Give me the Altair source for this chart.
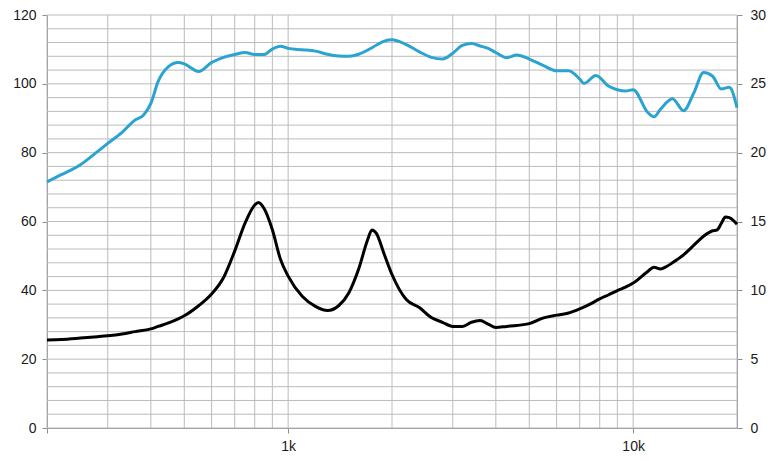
import altair as alt
import pandas as pd

# SPL curve (left axis, dB)
spl_freq = [200, 220, 250, 280, 300, 330, 360, 380, 400, 420, 450, 480, 500, 550, 600, 650,
            700, 750, 800, 850, 900, 950, 1000, 1100, 1200, 1300, 1400, 1500, 1600, 1700,
            1800, 1900, 2000, 2200, 2400, 2600, 2800, 3000, 3200, 3400, 3600, 3800, 4000,
            4300, 4600, 5000, 5500, 6000, 6500, 7000, 7200, 7800, 8500, 9000, 9500, 10000,
            11000, 11500, 12000, 13000, 14000, 15000, 16000, 17000, 18000, 19000, 20000]
spl_db = [71.5, 73.6, 76.5, 80.3, 82.7, 85.9, 89.5, 90.8, 94.3, 100.7, 105.0, 106.2, 105.8,
          103.6, 106.2, 107.7, 108.5, 109.1, 108.5, 108.5, 110.1, 110.9, 110.3, 109.9, 109.5,
          108.6, 108.1, 108.0, 108.6, 109.8, 111.2, 112.4, 112.8, 111.4, 109.3, 107.7, 107.2,
          108.9, 111.2, 111.7, 111.0, 110.3, 109.1, 107.6, 108.4, 107.2, 105.3, 103.8, 103.8,
          101.4, 100.1, 102.4, 99.3, 98.3, 97.9, 98.3, 91.8, 90.4, 92.6, 95.7, 92.2, 97.4,
          103.3, 102.2, 98.5, 99.0, 93.1]

# Impedance curve (right axis, ohm)
imp_freq = [200, 220, 250, 280, 300, 330, 360, 400, 420, 450, 480, 500, 550, 600, 650, 700,
            750, 800, 820, 850, 900, 950, 1000, 1100, 1200, 1300, 1400, 1500, 1600, 1700,
            1750, 1800, 1900, 2000, 2200, 2400, 2600, 2800, 3000, 3200, 3400, 3600, 3800,
            4000, 4300, 4600, 5000, 5500, 6000, 6500, 7000, 7500, 8000, 8500, 9000, 9500,
            10000, 11000, 11500, 12000, 12500, 13000, 14000, 15000, 16000, 17000, 17500,
            18000, 18500, 19000, 20000]
imp_ohm = [6.40, 6.43, 6.53, 6.63, 6.70, 6.83, 7.00, 7.20, 7.38, 7.63, 7.93, 8.15, 8.88, 9.73,
           10.93, 12.85, 14.88, 16.20, 16.38, 15.98, 14.40, 12.25, 11.03, 9.55, 8.83, 8.53,
           8.88, 9.83, 11.53, 13.68, 14.38, 14.15, 12.60, 11.15, 9.33, 8.75, 8.03, 7.68, 7.38,
           7.38, 7.68, 7.80, 7.55, 7.30, 7.38, 7.45, 7.58, 8.00, 8.20, 8.35, 8.65, 9.00, 9.38,
           9.68, 9.98, 10.23, 10.53, 11.35, 11.68, 11.55, 11.73, 12.00, 12.58, 13.28, 13.93,
           14.33, 14.38, 14.85, 15.33, 15.28, 14.80]

grid_spl = list(range(0, 121, 4))
grid_freq = [200, 300, 400, 500, 600, 700, 800, 900, 1000, 2000, 3000, 4000, 5000, 6000,
             7000, 8000, 9000, 10000, 20000]
left_ticks = [0, 20, 40, 60, 80, 100, 120]
right_ticks = [0, 5, 10, 15, 20, 25, 30]
x_ticks = [200, 1000, 10000]

spl_df = pd.DataFrame({"freq": spl_freq, "spl": spl_db})
imp_df = pd.DataFrame({"freq": imp_freq, "ohm": imp_ohm})
hgrid = pd.DataFrame({"v": grid_spl})
vgrid = pd.DataFrame({"f": grid_freq})

grid_color = "#BBBBBB"
axis_color = "#8C8C8C"

xscale = alt.Scale(type="log", domain=[200, 20000], nice=False)
yscale = alt.Scale(domain=[0, 120], nice=False, zero=True)
rscale = alt.Scale(domain=[0, 30], nice=False, zero=True)

x_axis = alt.Axis(values=x_ticks, title=None, grid=False,
                  labelExpr="datum.value == 1000 ? '1k' : (datum.value == 10000 ? '10k' : '')",
                  labelPadding=6, tickSize=5)
left_axis = alt.Axis(orient="left", values=left_ticks, title=None, grid=False,
                     tickSize=5, labelPadding=6)
right_axis = alt.Axis(orient="right", values=right_ticks, title=None, grid=False,
                      tickSize=5, labelPadding=8)

h = alt.Chart(hgrid).mark_rule(color=grid_color, strokeWidth=1).encode(
    y=alt.Y("v:Q", scale=yscale, axis=left_axis))
v = alt.Chart(vgrid).mark_rule(color=grid_color, strokeWidth=1).encode(
    x=alt.X("f:Q", scale=xscale, axis=x_axis))

spl = alt.Chart(spl_df).mark_line(color="#2BA3D1", strokeWidth=3, interpolate="monotone").encode(
    x=alt.X("freq:Q", scale=xscale, axis=x_axis),
    y=alt.Y("spl:Q", scale=yscale, axis=left_axis))

imp = alt.Chart(imp_df).mark_line(color="#000000", strokeWidth=3, interpolate="monotone").encode(
    x=alt.X("freq:Q", scale=xscale, axis=x_axis),
    y=alt.Y("ohm:Q", scale=rscale, axis=right_axis))

chart = alt.layer(alt.layer(h, v, spl), imp).resolve_scale(y="independent").properties(
    width=690, height=413,
    autosize=alt.AutoSizeParams(type="none"),
    padding={"left": 39, "top": 7, "right": 30, "bottom": 30},
    background="white",
).configure_view(stroke=None).configure_axis(
    domainColor=axis_color, tickColor=axis_color,
    labelFont="Liberation Sans", labelFontSize=14, labelColor="#1a1a1a",
)

chart.save("out.html", embed_options={"renderer": "svg", "actions": False})
